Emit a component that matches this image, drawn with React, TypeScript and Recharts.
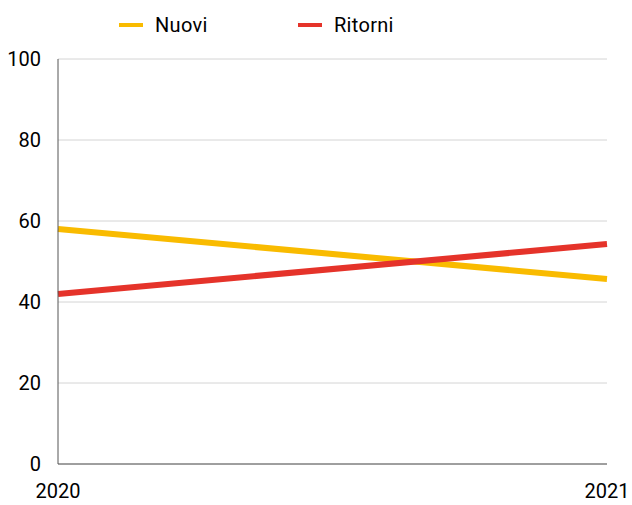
import React from "react";
import { LineChart, Line, XAxis, YAxis, CartesianGrid, Legend } from "recharts";

const years = ["2020", "2021"];
const nuovi = [58, 45.7];
const ritorni = [42, 54.3];
const yTicks = [0, 20, 40, 60, 80, 100];

const data = years.map((y, i) => ({ year: y, Nuovi: nuovi[i], Ritorni: ritorni[i] }));

const YELLOW = "#F9BB00";
const RED = "#E5332A";

const LegendContent = () => (
  <div style={{ position: "relative", height: 40, width: 632, fontFamily: "Roboto", fontSize: 20, color: "#000" }}>
    {[
      { name: "Nuovi", color: YELLOW, x: 119 },
      { name: "Ritorni", color: RED, x: 298 },
    ].map((it) => (
      <div key={it.name} style={{ position: "absolute", left: it.x, top: 13, display: "flex", alignItems: "center", height: 24 }}>
        <div style={{ width: 24, height: 4, background: it.color, marginRight: 12 }} />
        <span style={{ lineHeight: "24px", letterSpacing: 0.3 }}>{it.name}</span>
      </div>
    ))}
  </div>
);

export default function App() {
  return (
    <div style={{ position: "absolute", left: 0, top: 0, background: "#fff" }}>
      <LineChart
        width={632}
        height={505}
        data={data}
        margin={{ top: 19, right: 25, bottom: 11, left: 0 }}
        style={{ fontFamily: "Roboto" }}
      >
        <Legend
          verticalAlign="top"
          align="left"
          content={<LegendContent />}
          wrapperStyle={{ top: 0, left: 0, width: 632, height: 40 }}
        />
        <CartesianGrid vertical={false} stroke="#d4d4d4" strokeWidth={1} />
        <XAxis
          dataKey="year"
          axisLine={{ stroke: "#555", strokeWidth: 1 }}
          tickLine={false}
          tickSize={0}
          tickMargin={20}
          height={30}
          interval={0}
          tick={{ fill: "#000", fontSize: 20 }}
        />
        <YAxis
          domain={[0, 100]}
          ticks={yTicks}
          width={58}
          axisLine={{ stroke: "#555", strokeWidth: 1 }}
          tickLine={false}
          tickSize={0}
          tickMargin={17}
          tick={{ fill: "#000", fontSize: 20 }}
        />
        <Line dataKey="Nuovi" stroke={YELLOW} strokeWidth={6} dot={false} isAnimationActive={false} />
        <Line dataKey="Ritorni" stroke={RED} strokeWidth={6} dot={false} isAnimationActive={false} />
      </LineChart>
    </div>
  );
}
